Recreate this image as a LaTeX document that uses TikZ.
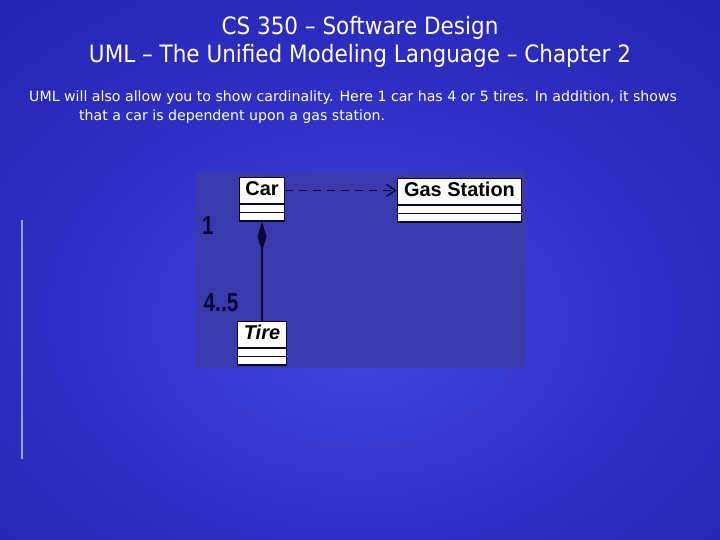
\documentclass[tikz,border=0pt]{standalone}
\usepackage{fontspec}
\setmainfont{DejaVu Sans Condensed}
\newfontfamily\bodyfont{DejaVu Sans}
\newfontfamily\umlfont{Liberation Sans}
\usetikzlibrary{shapes.multipart,arrows.meta,calc,positioning}

\definecolor{bgin}{RGB}{68,68,226}
\definecolor{bgmid}{RGB}{46,46,196}
\definecolor{bgout}{RGB}{14,14,128}
\definecolor{panel}{RGB}{58,58,172}
\definecolor{ink}{RGB}{8,8,56}
\definecolor{ruleblue}{RGB}{150,165,222}
\pgfdeclareradialshading{slidebg}{\pgfpoint{0bp}{-6bp}}{color(0bp)=(bgin); color(22bp)=(bgmid); color(72bp)=(bgout)}

% class box: name compartment, then two thin empty compartments
\newcommand\clsname[1]{{\umlfont\bfseries\fontsize{20}{20}\selectfont\rule[-8bp]{0pt}{25bp}#1}%
  \nodepart{two}\rule{0pt}{7bp}\nodepart{three}\rule{0pt}{7bp}}

\begin{document}
\begin{tikzpicture}[
    x=1bp, y=-1bp,
    cls/.style={rectangle split, rectangle split parts=3, draw=ink, line width=1.4bp, fill=white,
        inner xsep=4bp, inner ysep=0pt, anchor=north, font=\fontsize{2}{2}\selectfont},
    mult/.style={font=\umlfont\bfseries\fontsize{26}{26}\selectfont, text=ink, inner sep=0pt},
    head/.style={font=\fontsize{24}{28}\selectfont, text=white, anchor=base},
    body/.style={font=\bodyfont\fontsize{14.2}{19}\selectfont, text=white, anchor=base west, inner sep=0pt},
    dep/.style={draw=ink, line width=1.4bp, dash pattern=on 8bp off 6bp, -{Straight Barb[length=9bp,width=12bp]}},
    comp/.style={draw=ink, line width=1.4bp, -{Diamond[length=30bp,width=9bp]}},
]

% ---------- slide ----------
\useasboundingbox (0,0) rectangle (720,540);
\shade[shading=slidebg] (0,0) rectangle (720,540);
\draw[ruleblue, line width=1.2bp] (22,220) -- (22,459);

\node[head] (title) at (360,35) {CS 350 – Software Design};
\node[head] (subtitle) at (360,63) {UML – The Unified Modeling Language – Chapter 2};
\node[body] (line1) at (29,102) {UML will also allow you to show cardinality. Here 1 car has 4 or 5 tires. In addition, it shows};
\node[body] (line2) at (79,121) {that a car is dependent upon a gas station.};

% ---------- class diagram ----------
\node[fill=panel, minimum width=330bp, minimum height=196bp, anchor=north west, inner sep=0pt] (panel) at (196,172) {};

\node[cls, minimum width=45bp] (car) at (262,177) {\clsname{Car}};
\node[cls, minimum width=124bp] (gas) at (459.5,178) {\clsname{Gas Station}};
\node[cls, minimum width=49bp] (tire) at (262,321) {\clsname{\itshape Tire}};

\coordinate (depstart) at ($(car.north east)!0.3!(car.south east)$);
\draw[dep] (depstart) -- (depstart -| gas.west);
\draw[comp] (tire.north) -- (car.south);

\node[mult] (one) at (208,226) {\scalebox{0.8}[1]{1}};
\node[mult] (many) at (221,303) {\scalebox{0.8}[1]{4..5}};

\end{tikzpicture}
\end{document}
